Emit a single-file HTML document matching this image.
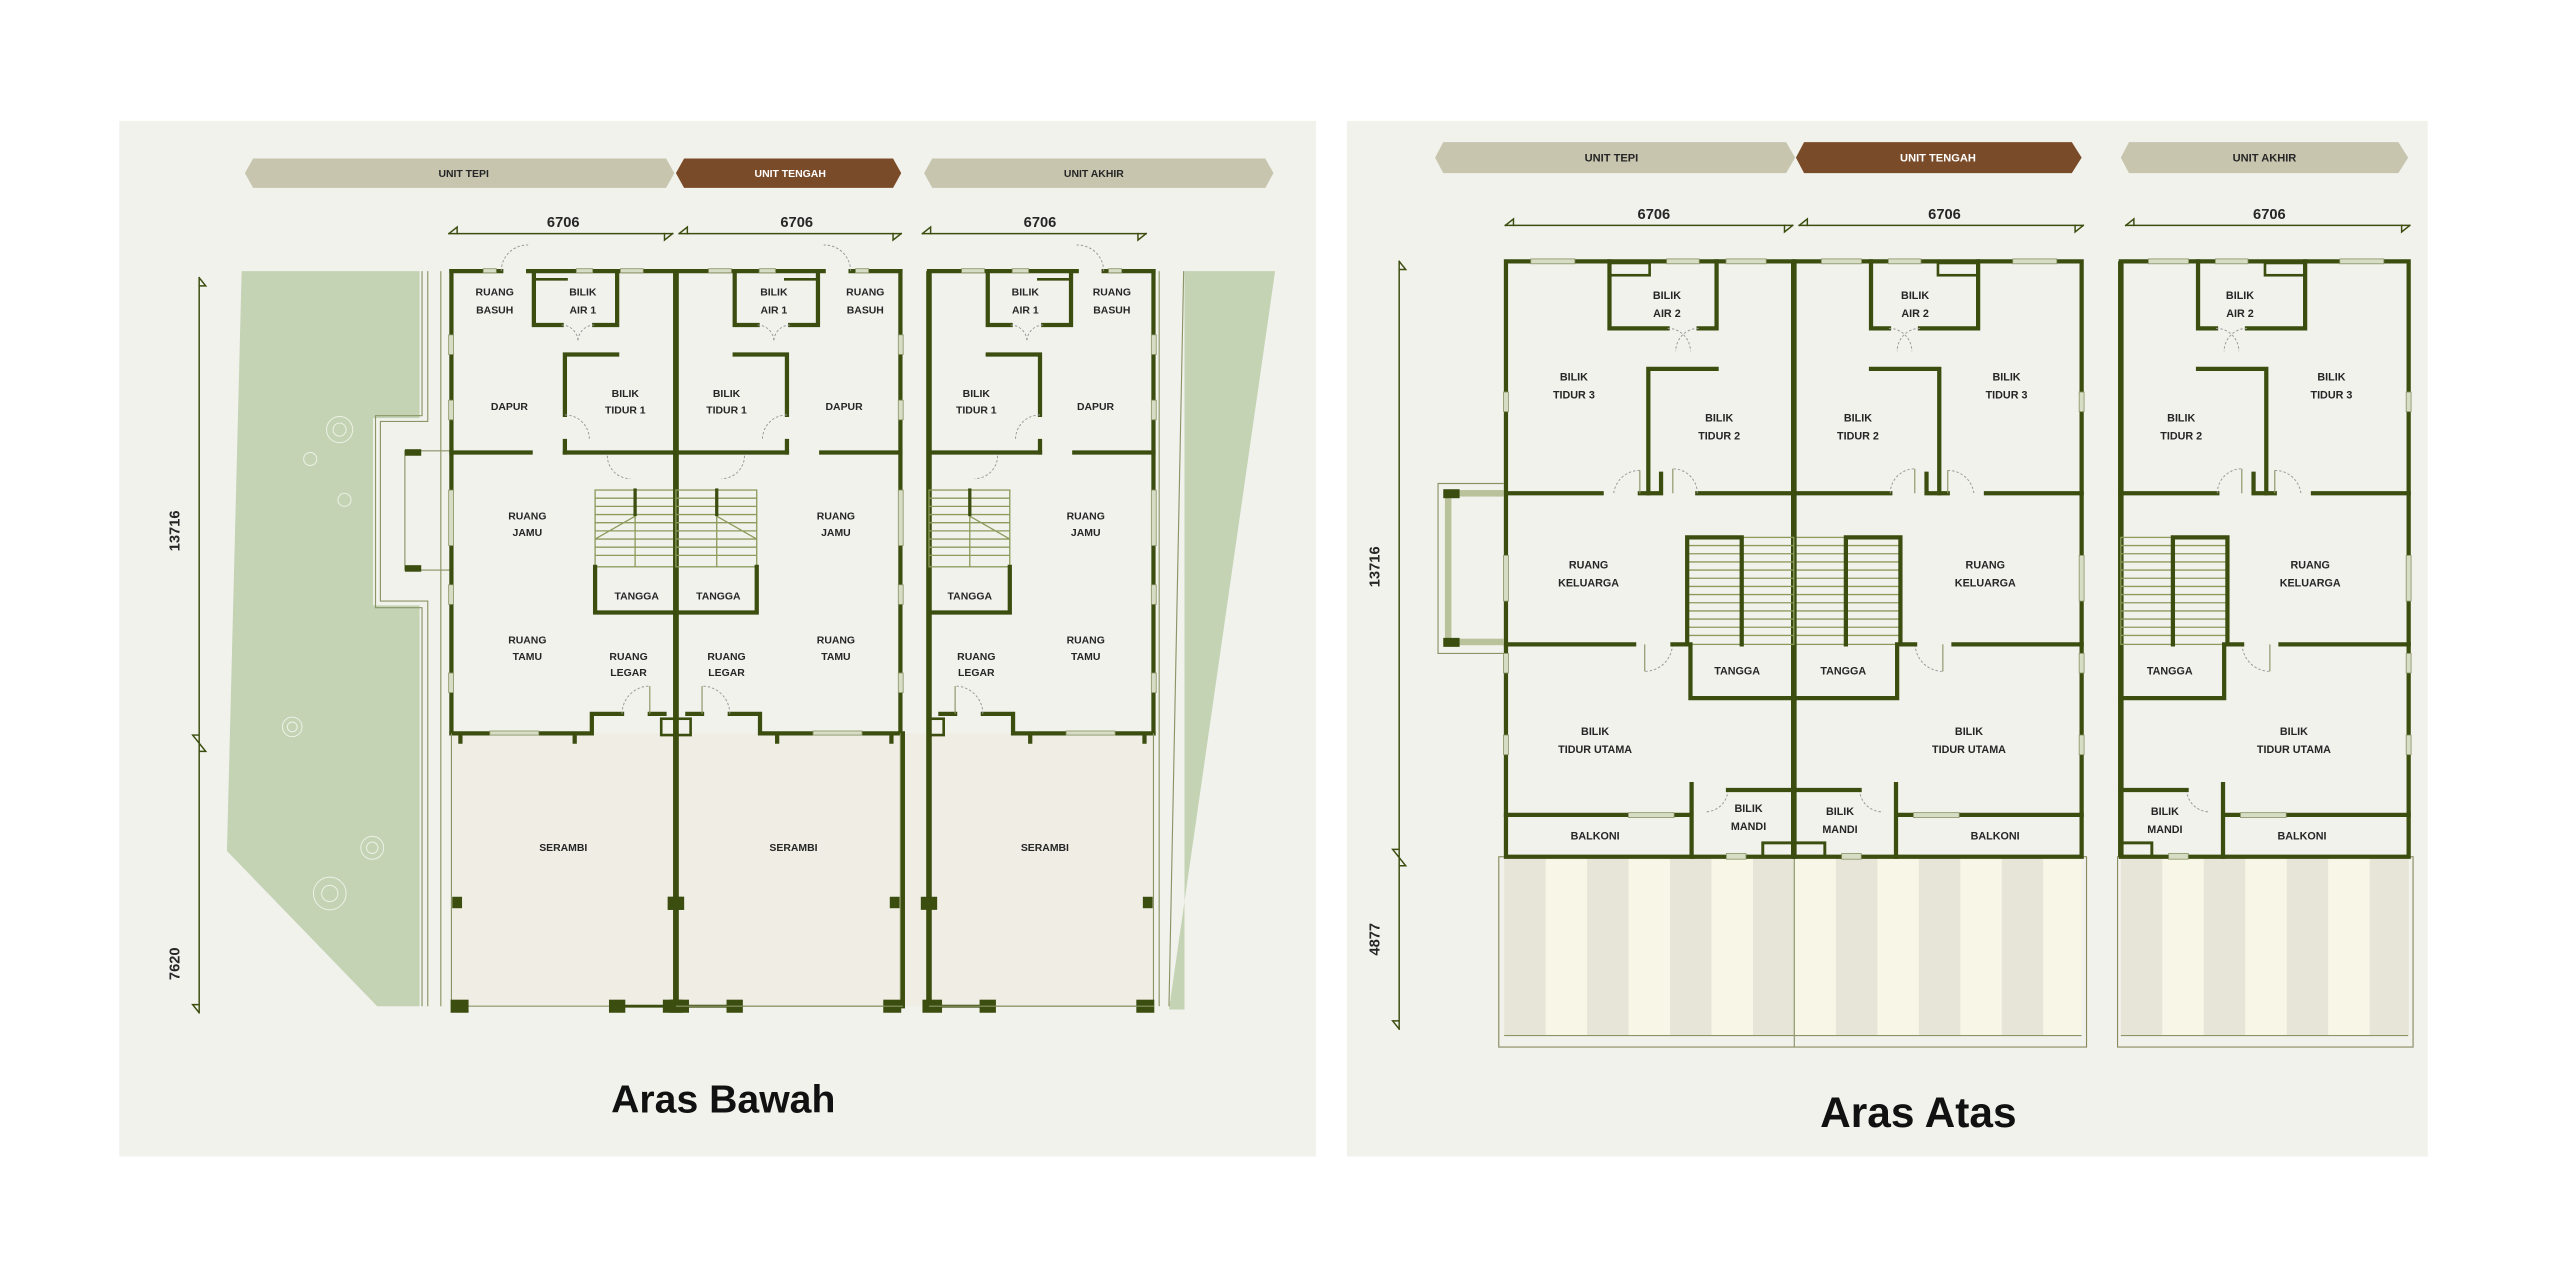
<!DOCTYPE html>
<html><head><meta charset="utf-8">
<style>
html,body{margin:0;padding:0;background:#fff;}
svg{display:block;}
.w{stroke:#3b4d0f;stroke-width:2.6;fill:none;stroke-linecap:square;}
.wt{stroke:#3b4d0f;stroke-width:3.4;fill:none;}
.th{stroke:#8a9466;stroke-width:0.7;fill:none;}
.tr{stroke:#8c9a5c;stroke-width:0.8;fill:none;}
.d{stroke:#9a9a9a;stroke-width:0.6;fill:none;stroke-dasharray:1.5 1.2;}
.win{fill:#d7dcc4;stroke:#8a9466;stroke-width:0.5;}
.p{fill:#3b4d0f;}
text{font-family:"Liberation Sans",sans-serif;font-weight:bold;fill:#262626;text-anchor:middle;}
.l{font-size:6.4px;}
.u{font-size:9px;}
.b{font-size:6.4px;}
.bu{font-size:6.8px;}
.ttl{fill:#111;}
</style></head><body>
<svg width="2560" height="1279" viewBox="0 0 1568 783" preserveAspectRatio="none" xmlns="http://www.w3.org/2000/svg" xmlns:xlink="http://www.w3.org/1999/xlink">
<rect x="0" y="0" width="1568" height="783" fill="#ffffff"/>
<rect x="73" y="74" width="733" height="634" fill="#f2f2ed"/>
<rect x="825" y="74" width="662" height="634" fill="#f2f2ed"/>

<polygon points="150,106 155,97 408,97 413,106 408,115 155,115" fill="#c7c5ae"/>
<polygon points="414,106 419,97 547,97 552,106 547,115 419,115" fill="#7a4b29"/>
<polygon points="566,106 571,97 775,97 780,106 775,115 571,115" fill="#c7c5ae"/>
<text class="b" x="284" y="108.5">UNIT TEPI</text>
<text class="b" x="484" y="108.5" style="fill:#fff">UNIT TENGAH</text>
<text class="b" x="670" y="108.5">UNIT AKHIR</text>
<g class="w" style="stroke-width:0.9">
<path d="M275,143 H412 M416,143 H552 M565,143 H702"/>
<path d="M275,143 l5,-4 v4 M412,143 l-5,4 v-4 M416,143 l5,-4 v4 M552,143 l-5,4 v-4 M565,143 l5,-4 v4 M702,143 l-5,4 v-4"/>
<path d="M122,170 V620 M122,170 l4,5 h-4 M122,455 l-4,-5 h4 M122,455 l4,5 h-4 M122,620 l-4,-5 h4"/>
</g>
<text class="u" x="345" y="139">6706</text>
<text class="u" x="488" y="139">6706</text>
<text class="u" x="637" y="139">6706</text>
<text class="u" transform="translate(110,325) rotate(-90)">13716</text>
<text class="u" transform="translate(110,590) rotate(-90)">7620</text>

<polygon points="148,166 257,166 257,256 228.5,256 228.5,370.6 257,370.6 257,616 231,616 139,521" fill="#c3d3b4"/>
<polygon points="725.5,166 781,166 716,618 725.5,618" fill="#c3d3b4"/>
<g class="th">
<path d="M258.5,166 V254.5 H230 V372 H258.5 V616"/>
<path d="M262,166 V258 H233 V368 H262 V616"/>
<path d="M270,166 V616"/>
<path d="M710,166 V616 M716,616 L725,166"/>
</g>
<g stroke="#eef2e6" stroke-width="0.6" fill="none">
<circle cx="208" cy="263" r="8"/><circle cx="208" cy="263" r="4"/>
<circle cx="190" cy="281" r="4"/><circle cx="211" cy="306" r="4"/>
<circle cx="179" cy="445" r="6"/><circle cx="179" cy="445" r="3"/>
<circle cx="228" cy="519" r="7"/><circle cx="228" cy="519" r="3.5"/>
<circle cx="202" cy="547" r="10"/><circle cx="202" cy="547" r="5"/>
</g>

<rect x="276.5" y="449" width="430" height="167" fill="#efede4"/>

<g class="th"><rect x="248" y="276" width="28.5" height="73"/></g>
<rect x="248" y="275" width="10" height="4" class="p"/>
<rect x="248" y="346" width="10" height="4" class="p"/>

<defs>
<g id="LL">
<path class="w" d="M276.5,166 V449"/>
<path class="w" d="M276.5,166 H307 M323.5,166 H414"/>
<path class="wt" d="M414,166 V616"/>
<rect class="win" x="296" y="164.5" width="8" height="2.5"/>
<rect class="win" x="353" y="164.5" width="10" height="2.5"/>
<rect class="win" x="380" y="164.5" width="14" height="2.5"/>
<rect class="win" x="274.8" y="205" width="3" height="12"/>
<rect class="win" x="274.8" y="245" width="3" height="12"/>
<rect class="win" x="274.8" y="300" width="3" height="34"/>
<rect class="win" x="274.8" y="358" width="3" height="12"/>
<rect class="win" x="274.8" y="412" width="3" height="12"/>
<path class="w" d="M327,166 V199 H344 M364,199 H378 V166"/>
<path class="w" style="stroke-width:1.6" d="M328,171 H347"/>
<path class="w" d="M346,254 V217 H378 M346,270 V277"/>
<path class="w" d="M276.5,277 H325 M346,277 H414"/>
<path class="d" d="M307,166 A16,16 0 0 1 323.5,150 M344,199 A10,10 0 0 1 354,209 M364,199 A10,10 0 0 0 354,209 M346,254 A15,15 0 0 1 361,269 M372,279 A14,14 0 0 0 386,293"/>
<g class="tr">
<rect x="364.5" y="300" width="49.5" height="47"/>
<path d="M364.5,305 H414 M364.5,310 H414 M364.5,315 H414 M364.5,320 H414 M364.5,325 H414 M364.5,330 H414 M364.5,335 H414 M364.5,340 H414 M389,300 V347 M364.5,330 L389,316"/>
</g>
<path class="w" style="stroke-width:2" d="M389,300 V315"/>
<path class="w" d="M364.5,347 V375 H414"/>
<path class="w" d="M276.5,449 H362.5 V437 H381 M398,437 H407 M282,449 V454 M352,449 V454"/>
<rect class="w" style="stroke-width:1.6" x="405" y="440" width="9" height="10"/>
<rect class="win" x="300" y="447.5" width="30" height="2.5"/>
<path class="d" d="M381,437 A17,17 0 0 1 398,420"/>
<path class="th" d="M398,420 V437"/>
<path class="th" d="M276.5,449 V616 M276.5,616 H414"/>
<rect class="p" x="277" y="549" width="6" height="7"/>
<rect class="p" x="409" y="549" width="10" height="8"/>
<rect class="p" x="276" y="612" width="11" height="8"/>
<rect class="p" x="373" y="612" width="10" height="8"/>
<rect class="p" x="406" y="612" width="12" height="8"/>
<path class="w" style="stroke-width:1.8" d="M383,616 H406"/>
</g>

<g id="UM">
<path class="w" d="M1098.7,160 H1275 V524.5 M1098.7,524.5 H1275"/>
<path class="wt" d="M1098.7,160 V524.5"/>
<rect class="win" x="1115.6" y="158.5" width="24.6" height="3"/>
<rect class="win" x="1156.6" y="158.5" width="20" height="3"/>
<rect class="win" x="1232.8" y="158.5" width="27" height="3"/>
<rect class="win" x="1273.5" y="240" width="3" height="12"/>
<rect class="win" x="1273.5" y="340" width="3" height="28"/>
<rect class="win" x="1273.5" y="400" width="3" height="12"/>
<rect class="win" x="1273.5" y="450" width="3" height="12"/>
<path class="w" d="M1146,160 V201 H1157 M1176,201 H1211.6 V160"/>
<rect class="w" style="stroke-width:1.6" x="1187" y="161" width="24.6" height="7.5"/>
<path class="w" d="M1146,225.8 H1187.8 V302"/>
<path class="w" d="M1098.7,302 H1157.8 M1180,302 H1193 M1180,302 V290 M1216.4,302 H1275"/>
<path class="d" d="M1157,201 A14,14 0 0 1 1171,215 M1176,201 A14,14 0 0 0 1162,215 M1157.8,302 A15,15 0 0 1 1172.8,287 M1193,288 A16,16 0 0 1 1209,302 M1173,394.5 A17,17 0 0 0 1190,411 M1139,483.6 A14,14 0 0 0 1153,497"/>
<path class="th" d="M1172.8,287 V302 M1193,288 V302 M1190,394.5 V411"/>
<g class="tr">
<rect x="1098.7" y="329" width="65.3" height="65.5"/>
<path d="M1098.7,334 H1164 M1098.7,339 H1164 M1098.7,344 H1164 M1098.7,349 H1164 M1098.7,354 H1164 M1098.7,359 H1164 M1098.7,364 H1164 M1098.7,369 H1164 M1098.7,374 H1164 M1098.7,379 H1164 M1098.7,384 H1164 M1098.7,389 H1164"/>
</g>
<path class="w" d="M1130.6,394.5 V329 H1164 V394.5"/>
<path class="w" d="M1164,394.5 H1173 M1196.5,394.5 H1275"/>
<path class="w" d="M1162,394.5 V427.4 H1098.7"/>
<path class="w" d="M1098.7,483.6 H1139 M1161.3,480 V524.5 M1161.3,498.9 H1172 M1200,498.9 H1275"/>
<rect class="win" x="1172" y="497.5" width="28" height="3"/>
<rect class="w" style="stroke-width:1.8" x="1098.7" y="516" width="19" height="8.5"/>
<rect class="win" x="1128" y="522.5" width="12" height="3.5"/>
</g>
</defs>

<use xlink:href="#LL"/>
<use xlink:href="#LL" transform="translate(828,0) scale(-1,1)"/>
<use xlink:href="#LL" transform="translate(983,0) scale(-1,1)"/>
<path class="w" d="M553,449 V616"/>
<path class="th" d="M414,616 H553 M569,616 H707"/>

<g class="l">
<text x="303" y="181">RUANG</text><text x="303" y="192">BASUH</text>
<text x="357" y="181">BILIK</text><text x="357" y="192">AIR 1</text>
<text x="312" y="251">DAPUR</text>
<text x="383" y="243">BILIK</text><text x="383" y="253">TIDUR 1</text>
<text x="323" y="318">RUANG</text><text x="323" y="328">JAMU</text>
<text x="390" y="367">TANGGA</text>
<text x="323" y="394">RUANG</text><text x="323" y="404">TAMU</text>
<text x="385" y="404">RUANG</text><text x="385" y="414">LEGAR</text>
<text x="345" y="521">SERAMBI</text>

<text x="474" y="181">BILIK</text><text x="474" y="192">AIR 1</text>
<text x="530" y="181">RUANG</text><text x="530" y="192">BASUH</text>
<text x="445" y="243">BILIK</text><text x="445" y="253">TIDUR 1</text>
<text x="517" y="251">DAPUR</text>
<text x="512" y="318">RUANG</text><text x="512" y="328">JAMU</text>
<text x="440" y="367">TANGGA</text>
<text x="445" y="404">RUANG</text><text x="445" y="414">LEGAR</text>
<text x="512" y="394">RUANG</text><text x="512" y="404">TAMU</text>
<text x="486" y="521">SERAMBI</text>

<text x="628" y="181">BILIK</text><text x="628" y="192">AIR 1</text>
<text x="681" y="181">RUANG</text><text x="681" y="192">BASUH</text>
<text x="598" y="243">BILIK</text><text x="598" y="253">TIDUR 1</text>
<text x="671" y="251">DAPUR</text>
<text x="665" y="318">RUANG</text><text x="665" y="328">JAMU</text>
<text x="594" y="367">TANGGA</text>
<text x="598" y="404">RUANG</text><text x="598" y="414">LEGAR</text>
<text x="665" y="394">RUANG</text><text x="665" y="404">TAMU</text>
<text x="640" y="521">SERAMBI</text>
</g>
<text class="ttl" x="443" y="681" style="font-size:24px">Aras Bawah</text>

<polygon points="879,96.5 884,87 1094,87 1099.5,96.5 1094,106 884,106" fill="#c7c5ae"/>
<polygon points="1100,96.5 1105,87 1269,87 1275,96.5 1269,106 1105,106" fill="#7a4b29"/>
<polygon points="1299,96.5 1304,87 1469,87 1475,96.5 1469,106 1304,106" fill="#c7c5ae"/>
<text class="bu" x="987" y="99">UNIT TEPI</text>
<text class="bu" x="1187" y="99" style="fill:#fff">UNIT TENGAH</text>
<text class="bu" x="1387" y="99">UNIT AKHIR</text>
<g class="w" style="stroke-width:0.9">
<path d="M922,138 H1098 M1102,138 H1276 M1302,138 H1476"/>
<path d="M922,138 l5,-4 v4 M1098,138 l-5,4 v-4 M1102,138 l5,-4 v4 M1276,138 l-5,4 v-4 M1302,138 l5,-4 v4 M1476,138 l-5,4 v-4"/>
<path d="M857,160 V630 M857,160 l4,5 h-4 M857,525 l-4,-5 h4 M857,525 l4,5 h-4 M857,630 l-4,-5 h4"/>
</g>
<text class="u" x="1013" y="134">6706</text>
<text class="u" x="1191" y="134">6706</text>
<text class="u" x="1390" y="134">6706</text>
<text class="u" transform="translate(845,347) rotate(-90)">13716</text>
<text class="u" transform="translate(845,575) rotate(-90)">4877</text>

<g>
<rect x="918" y="524.5" width="360" height="116.5" fill="#f2f2ed" stroke="#8a8a60" stroke-width="0.7"/>
<rect x="921.3" y="524.5" width="353.7" height="109.5" fill="#f8f6e6"/>
<g fill="#e7e5d8">
<rect x="921.3" y="524.5" width="25.4" height="109.5"/>
<rect x="972.1" y="524.5" width="25.4" height="109.5"/>
<rect x="1022.9" y="524.5" width="25.4" height="109.5"/>
<rect x="1073.7" y="524.5" width="25.4" height="109.5"/>
<rect x="1124.5" y="524.5" width="25.4" height="109.5"/>
<rect x="1175.3" y="524.5" width="25.4" height="109.5"/>
<rect x="1226.1" y="524.5" width="25.4" height="109.5"/>
</g>
<path class="th" d="M921.3,634 H1275 M1099,524.5 V641"/>
<rect x="1297" y="524.5" width="181" height="116.5" fill="#f2f2ed" stroke="#8a8a60" stroke-width="0.7"/>
<rect x="1299" y="524.5" width="176.3" height="109.5" fill="#f8f6e6"/>
<g fill="#e7e5d8">
<rect x="1299" y="524.5" width="25.4" height="109.5"/>
<rect x="1349.8" y="524.5" width="25.4" height="109.5"/>
<rect x="1400.6" y="524.5" width="25.4" height="109.5"/>
<rect x="1451.4" y="524.5" width="24" height="109.5"/>
</g>
<path class="th" d="M1299,634 H1475"/>
</g>

<use xlink:href="#UM"/>
<use xlink:href="#UM" transform="translate(2197.4,0) scale(-1,1)"/>
<use xlink:href="#UM" transform="translate(200.3,0)"/>

<path class="th" d="M921,296 H880.8 V400 H921"/>
<rect x="885" y="300" width="4" height="95" fill="#b9c29b"/>
<rect x="885" y="300" width="36" height="4" fill="#b9c29b"/>
<rect x="885" y="391" width="36" height="4" fill="#b9c29b"/>
<rect x="884" y="299.5" width="10" height="5.5" class="p"/>
<rect x="884" y="390.5" width="10" height="5.5" class="p"/>

<g class="l" style="font-size:6.6px">
<text x="1021" y="183">BILIK</text><text x="1021" y="194">AIR 2</text>
<text x="964" y="233">BILIK</text><text x="964" y="244">TIDUR 3</text>
<text x="1053" y="258">BILIK</text><text x="1053" y="269">TIDUR 2</text>
<text x="973" y="348">RUANG</text><text x="973" y="359">KELUARGA</text>
<text x="1064" y="413">TANGGA</text>
<text x="977" y="450">BILIK</text><text x="977" y="461">TIDUR UTAMA</text>
<text x="1071" y="497">BILIK</text><text x="1071" y="508">MANDI</text>
<text x="977" y="514">BALKONI</text>

<text x="1173" y="183">BILIK</text><text x="1173" y="194">AIR 2</text>
<text x="1229" y="233">BILIK</text><text x="1229" y="244">TIDUR 3</text>
<text x="1138" y="258">BILIK</text><text x="1138" y="269">TIDUR 2</text>
<text x="1216" y="348">RUANG</text><text x="1216" y="359">KELUARGA</text>
<text x="1129" y="413">TANGGA</text>
<text x="1206" y="450">BILIK</text><text x="1206" y="461">TIDUR UTAMA</text>
<text x="1127" y="499">BILIK</text><text x="1127" y="510">MANDI</text>
<text x="1222" y="514">BALKONI</text>

<text x="1372" y="183">BILIK</text><text x="1372" y="194">AIR 2</text>
<text x="1428" y="233">BILIK</text><text x="1428" y="244">TIDUR 3</text>
<text x="1336" y="258">BILIK</text><text x="1336" y="269">TIDUR 2</text>
<text x="1415" y="348">RUANG</text><text x="1415" y="359">KELUARGA</text>
<text x="1329" y="413">TANGGA</text>
<text x="1405" y="450">BILIK</text><text x="1405" y="461">TIDUR UTAMA</text>
<text x="1326" y="499">BILIK</text><text x="1326" y="510">MANDI</text>
<text x="1410" y="514">BALKONI</text>
</g>
<text class="ttl" x="1175" y="690" style="font-size:26px">Aras Atas</text>
</svg>
</body></html>
